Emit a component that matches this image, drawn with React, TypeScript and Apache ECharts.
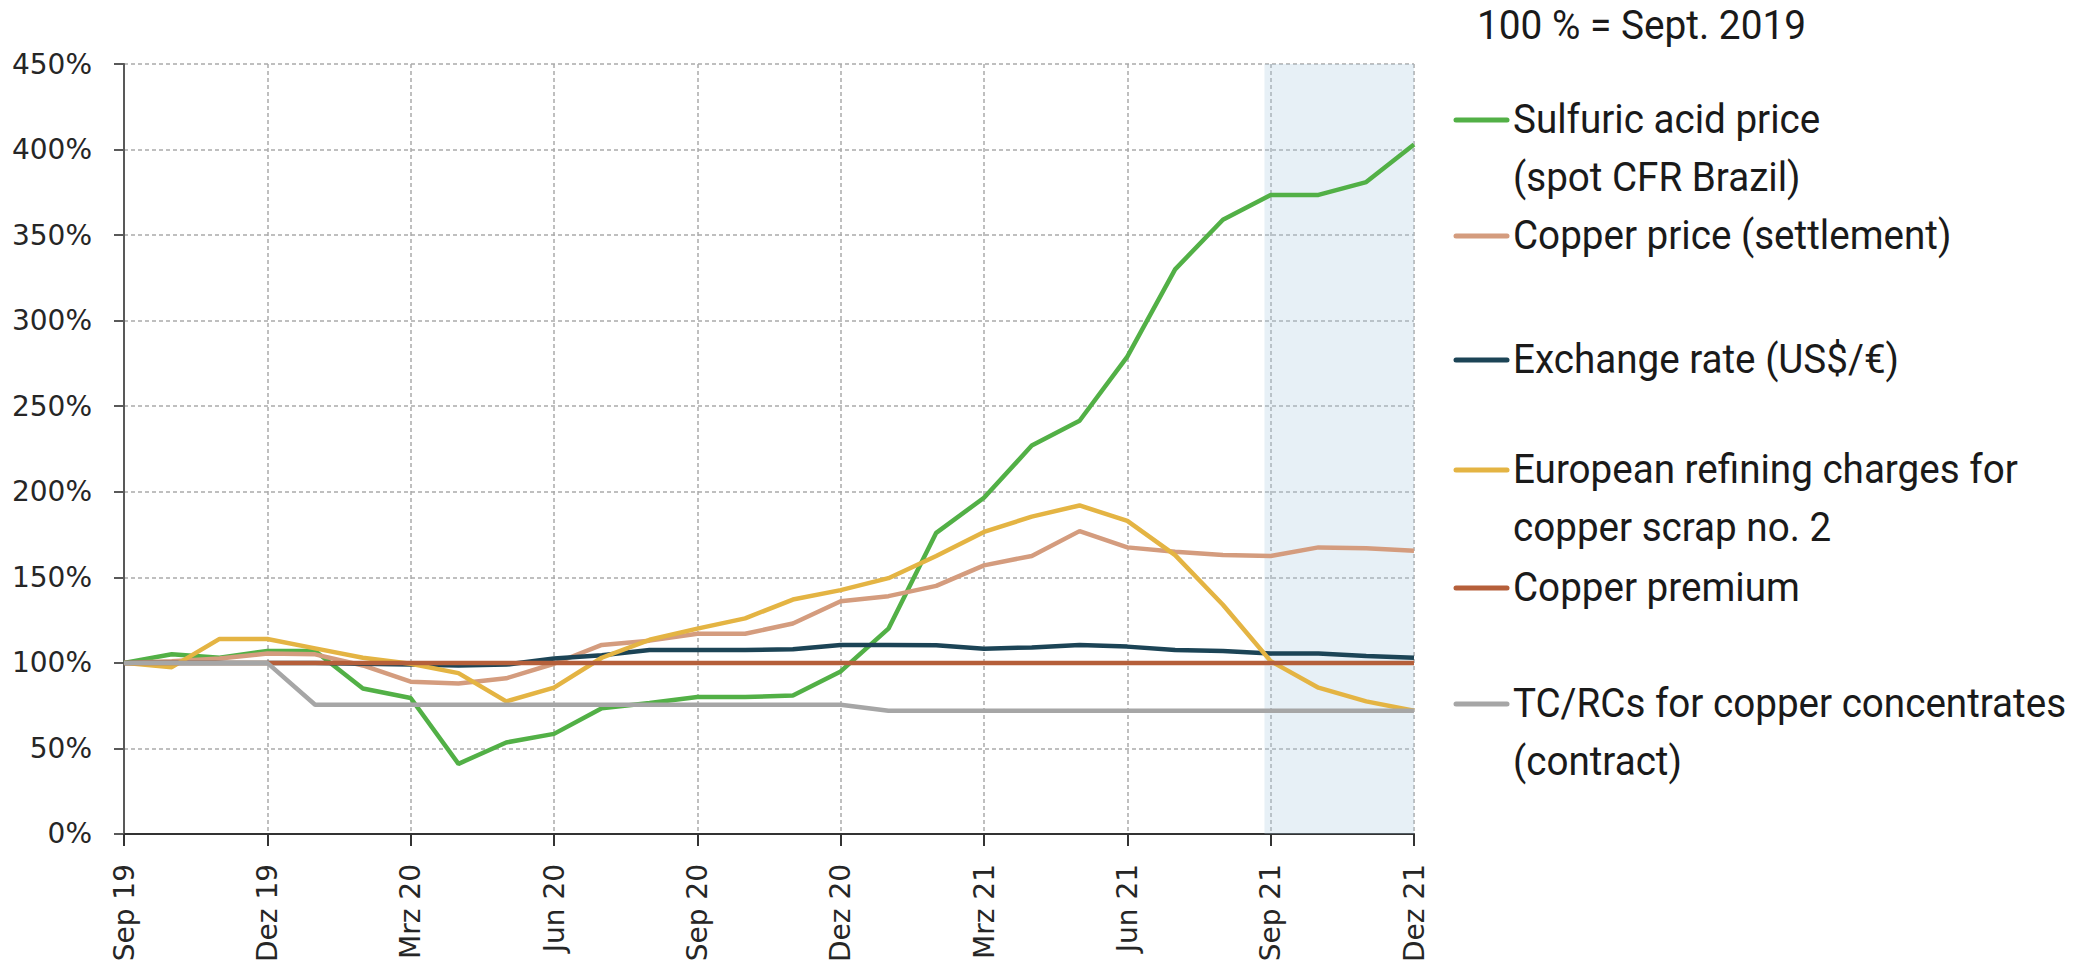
import React, { useEffect, useRef } from "react";
import * as echarts from "echarts";

const months = [
  "Sep 19", "Okt 19", "Nov 19", "Dez 19", "Jan 20", "Feb 20", "Mrz 20", "Apr 20", "Mai 20", "Jun 20",
  "Jul 20", "Aug 20", "Sep 20", "Okt 20", "Nov 20", "Dez 20", "Jan 21", "Feb 21", "Mrz 21", "Apr 21",
  "Mai 21", "Jun 21", "Jul 21", "Aug 21", "Sep 21", "Okt 21", "Nov 21", "Dez 21",
];

const sulfuricAcid = [100, 105, 103, 107, 107, 85, 79.5, 41, 53.5, 58.5, 73.5, 76.5, 80, 80, 81, 95, 120, 176, 196.5, 227, 241.5, 279, 330, 359, 373.5, 373.5, 381, 403];
const copperPrice = [100, 101, 102.5, 105.5, 105, 98.5, 89, 88, 91, 99.5, 110.5, 113, 117, 117, 123, 136, 139, 145, 157, 162.5, 177, 167.5, 165, 163, 162.5, 167.5, 167, 165.5];
const exchangeRate = [100, 100, 100, 100, 100, 99.5, 99, 98.5, 99, 102.5, 104.5, 107.5, 107.5, 107.5, 108, 110.5, 110.5, 110.3, 108.3, 109, 110.5, 109.5, 107.5, 107, 105.5, 105.5, 104, 103];
const refiningCharges = [100, 97.5, 114, 114, 108.5, 103, 99.5, 94, 77.5, 85.5, 103, 113.5, 120, 126, 137, 142.5, 149.5, 162.5, 176.5, 185.5, 192, 183, 163, 134, 101, 85.5, 77.5, 72];
const copperPremium = [100, 100, 100, 100, 100, 100, 100, 100, 100, 100, 100, 100, 100, 100, 100, 100, 100, 100, 100, 100, 100, 100, 100, 100, 100, 100, 100, 100];
const tcRcs = [100, 100, 100, 100, 75.5, 75.5, 75.5, 75.5, 75.5, 75.5, 75.5, 75.5, 75.5, 75.5, 75.5, 75.5, 72, 72, 72, 72, 72, 72, 72, 72, 72, 72, 72, 72];

const seriesNames = [
  "Sulfuric acid price (spot CFR Brazil)",
  "Copper price (settlement)",
  "Exchange rate (US$/€)",
  "European refining charges for copper scrap no. 2",
  "Copper premium",
  "TC/RCs for copper concentrates (contract)",
];
const seriesData = [sulfuricAcid, copperPrice, exchangeRate, refiningCharges, copperPremium, tcRcs];
const seriesColors = ["#52B046", "#D49C7E", "#1C4456", "#E4B443", "#B55F3A", "#A6A6A6"];

const legendLines = [
  ["Sulfuric acid price", "(spot CFR Brazil)"],
  ["Copper price (settlement)"],
  ["Exchange rate (US$/€)"],
  ["European refining charges for", "copper scrap no. 2"],
  ["Copper premium"],
  ["TC/RCs for copper concentrates"],
];
legendLines[5].push("(contract)");
const legendNote = "100 % = Sept. 2019";
const forecastStart = 23.87;

const legendY = [120, 236, 360, 470, 588, 704];
const lineGap = 58;

export default function App() {
  const ref = useRef<HTMLDivElement>(null);
  useEffect(() => {
    if (!ref.current) return;
    const chart = echarts.init(ref.current, undefined, { renderer: "svg" });
    const textStyleBase = { fontFamily: "Roboto", fontSize: 40, fill: "#1a1a1a", verticalAlign: "middle" };
    const graphic: any[] = [
      { type: "text", x: 1477, y: 25, scaleX: 0.97, style: { ...textStyleBase, text: legendNote, fontSize: 40 } },
    ];
    legendLines.forEach((lines, i) => {
      const y = legendY[i];
      graphic.push({
        type: "line",
        shape: { x1: 1456, y1: y, x2: 1507, y2: y },
        style: { stroke: seriesColors[i], lineWidth: 5, lineCap: "round" },
      });
      lines.forEach((t, j) => {
        graphic.push({ type: "text", x: 1513, y: y + j * lineGap, scaleX: 0.965, style: { ...textStyleBase, text: t } });
      });
    });

    const gridDash = { color: "#ABABAB", type: [4, 3] as any, width: 1.5 };

    chart.setOption({
      animation: false,
      grid: { left: 124, right: 684, top: 64, bottom: 126, containLabel: false },
      xAxis: {
        type: "value",
        min: 0,
        max: 27,
        interval: 3,
        axisLine: { show: true, onZero: false, lineStyle: { color: "#333333", width: 2 } },
        axisTick: { show: true, length: 12, lineStyle: { color: "#333333", width: 2 } },
        axisLabel: {
          rotate: 90,
          margin: 30,
          fontFamily: "DejaVu Sans",
          fontSize: 28,
          color: "#262626",
          formatter: (v: number) => months[v] ?? "",
        },
        splitLine: { show: true, lineStyle: gridDash },
      },
      yAxis: {
        type: "value",
        min: 0,
        max: 450,
        interval: 50,
        axisLine: { show: true, lineStyle: { color: "#595959", width: 2 } },
        axisTick: { show: true, length: 10, lineStyle: { color: "#595959", width: 2 } },
        axisLabel: { margin: 32, fontFamily: "DejaVu Sans", fontSize: 28, color: "#262626", formatter: "{value}%" },
        splitLine: { show: true, lineStyle: gridDash },
      },
      graphic,
      series: seriesData.map((d, i) => ({
        name: seriesNames[i],
        type: "line",
        data: d.map((v, k) => [k, v]),
        symbol: "none",
        lineStyle: { color: seriesColors[i], width: 4.5 },
        itemStyle: { color: seriesColors[i] },
        z: 3 + i,
        ...(i === 0
          ? {
              markArea: {
                silent: true,
                itemStyle: { color: "rgba(170,200,222,0.28)" },
                data: [[{ xAxis: forecastStart }, { xAxis: 27 }]],
              },
            }
          : {}),
      })),
    });
    return () => chart.dispose();
  }, []);
  return <div ref={ref} style={{ position: "absolute", left: 0, top: 0, width: 2098, height: 965 }} />;
}
